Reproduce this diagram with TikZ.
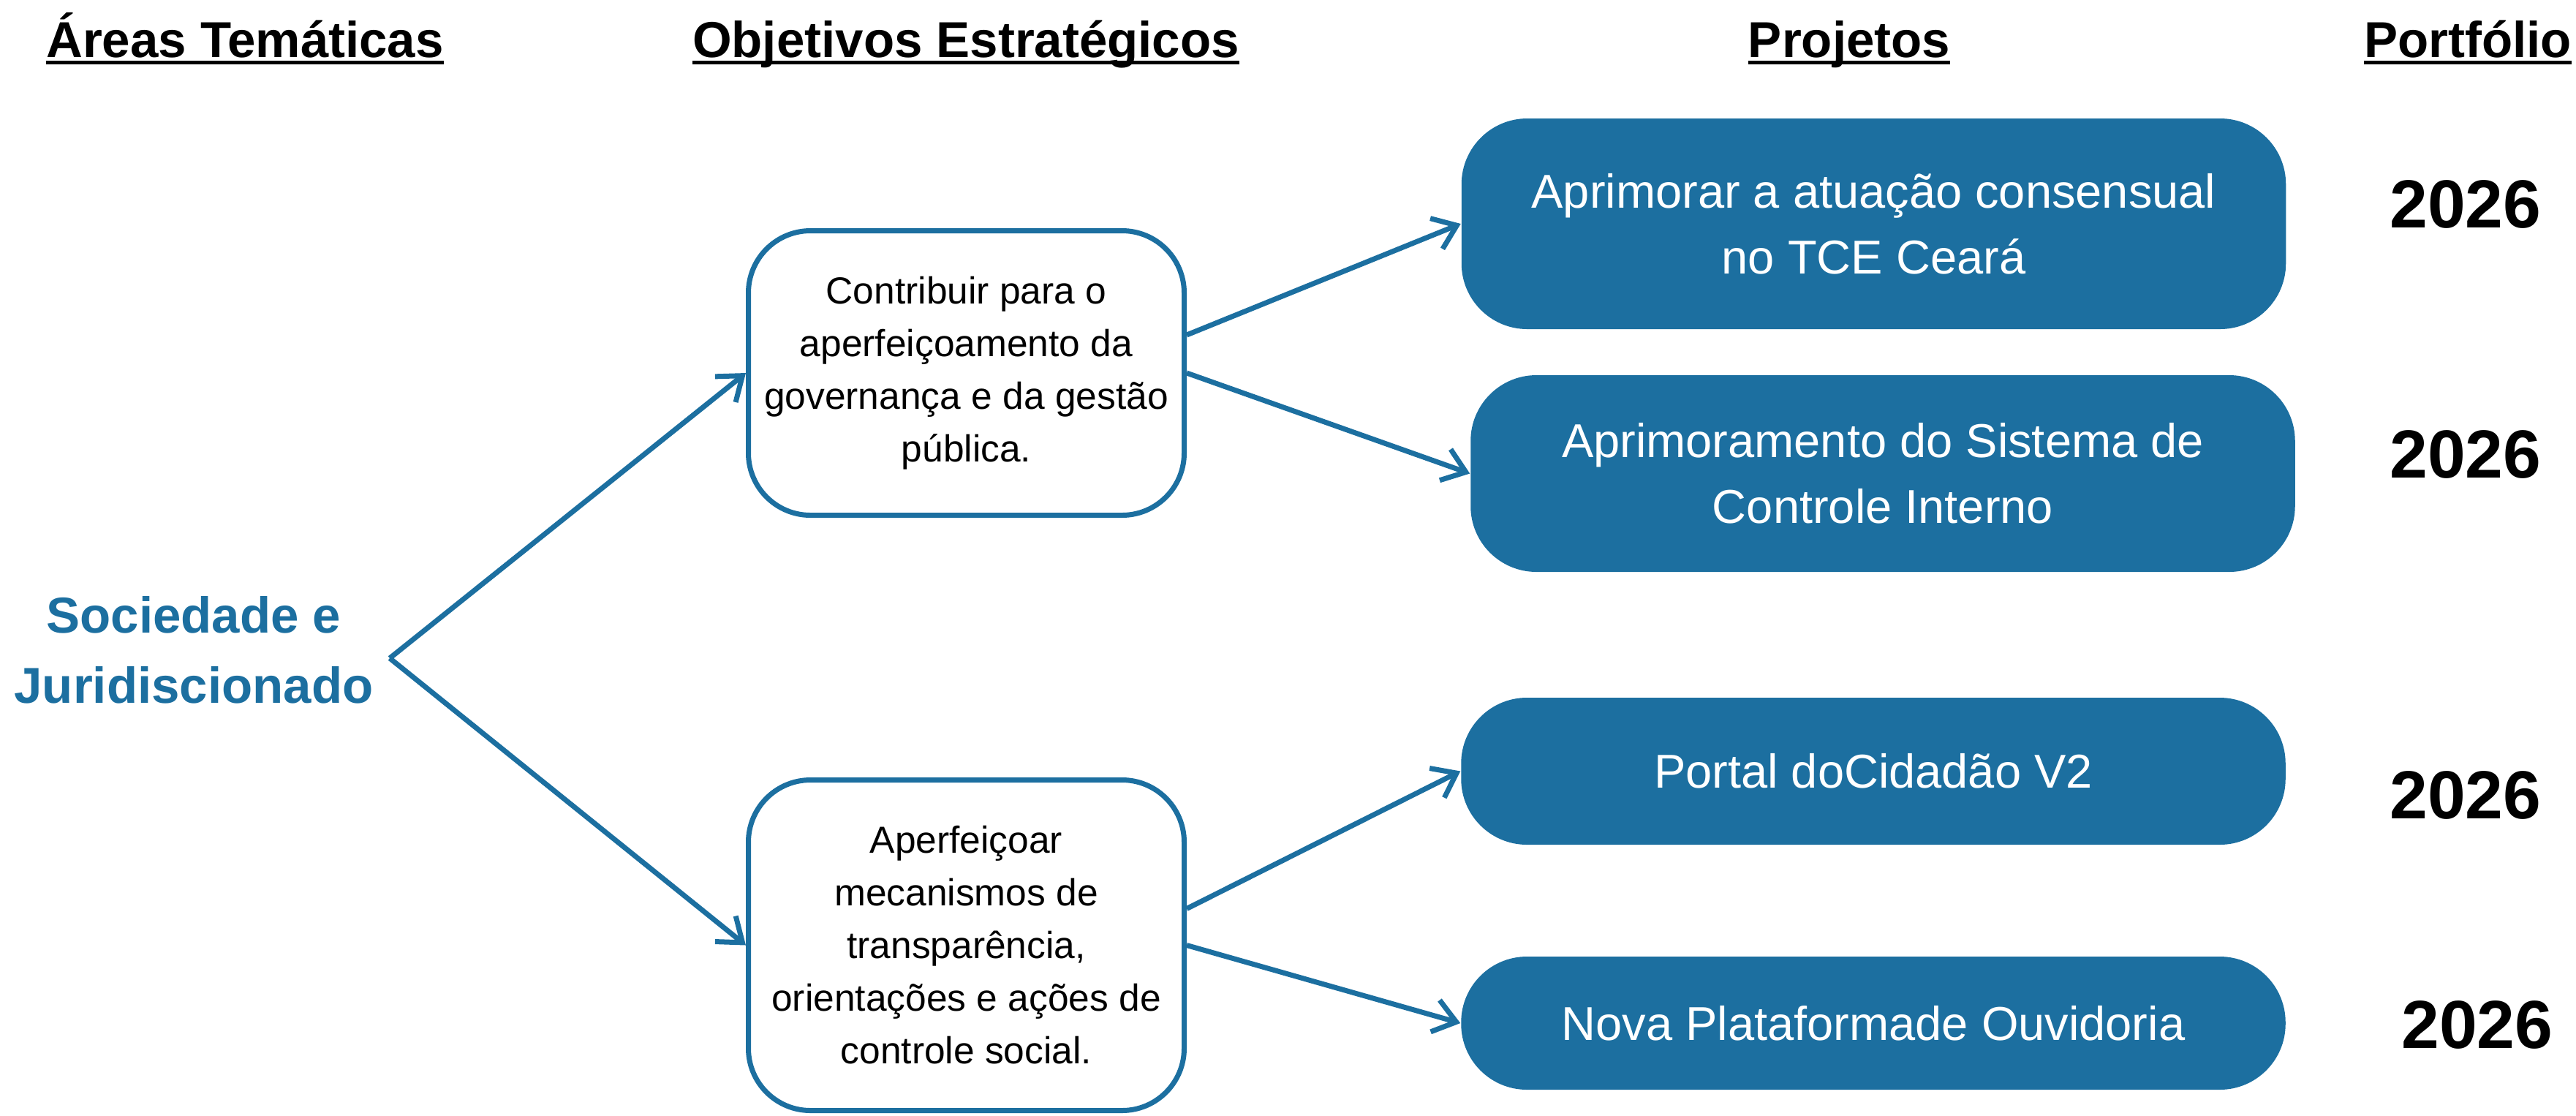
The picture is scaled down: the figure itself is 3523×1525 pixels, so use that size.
\documentclass[tikz,border=0pt]{standalone}
\usepackage{fontspec}
\setmainfont{Liberation Sans}
\usepackage{xcolor}
\usepackage{tikz}
\usetikzlibrary{arrows.meta,calc}
\definecolor{tceblue}{RGB}{28,111,160}
\newsavebox{\hdrbox}
\newcommand{\hdrline}[1]{\sbox{\hdrbox}{#1}\rlap{\usebox{\hdrbox}}\rule[-2pt]{\wd\hdrbox}{1pt}}

\begin{document}
\begin{tikzpicture}[x=0.2pt,y=0.2pt,yscale=-1,
  hdr/.style={anchor=base,inner sep=0pt,font=\fontsize{13.8}{16}\selectfont\bfseries},
  objbox/.style={draw=tceblue,line width=1.4pt,rounded corners=17pt,fill=white,align=center,minimum width=119.2pt,inner sep=0pt,font=\fontsize{10.3}{14.4}\selectfont},
  projbox/.style={fill=tceblue,rounded corners=18pt,text=white,align=center,minimum width=225.5pt,inner sep=0pt,font=\fontsize{13}{18}\selectfont},
  yearlbl/.style={anchor=base,inner sep=0pt,font=\fontsize{18.6}{20}\selectfont\bfseries},
  link/.style={draw=tceblue,line width=1.4pt,-{Straight Barb[length=6pt,width=9pt]}}]
\useasboundingbox (0,0) rectangle (3523,1525);
% Text Node
\node[hdr] (hArea) at (335,78) {\hdrline{Áreas Temáticas}};
% Text Node
\node[hdr] (hObj) at (1321,78) {\hdrline{Objetivos Estratégicos}};
% Text Node
\node[hdr] (hProj) at (2529,78) {\hdrline{Projetos}};
% Text Node
\node[hdr] (hPort) at (3375,78) {\hdrline{Portfólio}};
% Text Node
\node[font=\fontsize{13.8}{19.2}\selectfont\bfseries,text=tceblue,align=center] (area) at (265,889) {Sociedade e\\Juridiscionado};
\coordinate (fork) at (533,900);
%Rounded Rect
\node[objbox,minimum height=77.8pt] (obj1) at (1321.5,510) {Contribuir para o\\aperfeiçoamento da\\governança e da gestão\\pública.};
%Rounded Rect
\node[objbox,minimum height=90.4pt] (obj2) at (1321.5,1292.5) {Aperfeiçoar\\mecanismos de\\transparência,\\orientações e ações de\\controle social.};
%Rounded Rect
\node[projbox,minimum height=57.6pt] (proj1) at (2562.5,306) {Aprimorar a atuação consensual\\no TCE Ceará};
\node[projbox,minimum height=53.8pt] (proj2) at (2575,647.5) {Aprimoramento do Sistema de\\Controle Interno};
\node[projbox,minimum height=40.2pt] (proj3) at (2562,1054.5) {Portal doCidadão V2};
\node[projbox,minimum height=36.4pt] (proj4) at (2562,1399) {Nova Plataformade Ouvidoria};
% Text Node
\node[yearlbl] (year1) at (3372,311) {2026};
\node[yearlbl] (year2) at (3372,653) {2026};
\node[yearlbl] (year3) at (3372,1119) {2026};
\node[yearlbl] (year4) at (3388,1433) {2026};
%Straight Lines
\draw[link] (fork) -- (obj1.west);
\draw[link] (fork) -- (obj2.west);
\draw[link] ($(obj1.east)+(0,-52)$) -- (proj1.west);
\draw[link] (obj1.east) -- (proj2.west);
\draw[link] ($(obj2.east)+(0,-50)$) -- (proj3.west);
\draw[link] (obj2.east) -- (proj4.west);
\end{tikzpicture}
\end{document}
